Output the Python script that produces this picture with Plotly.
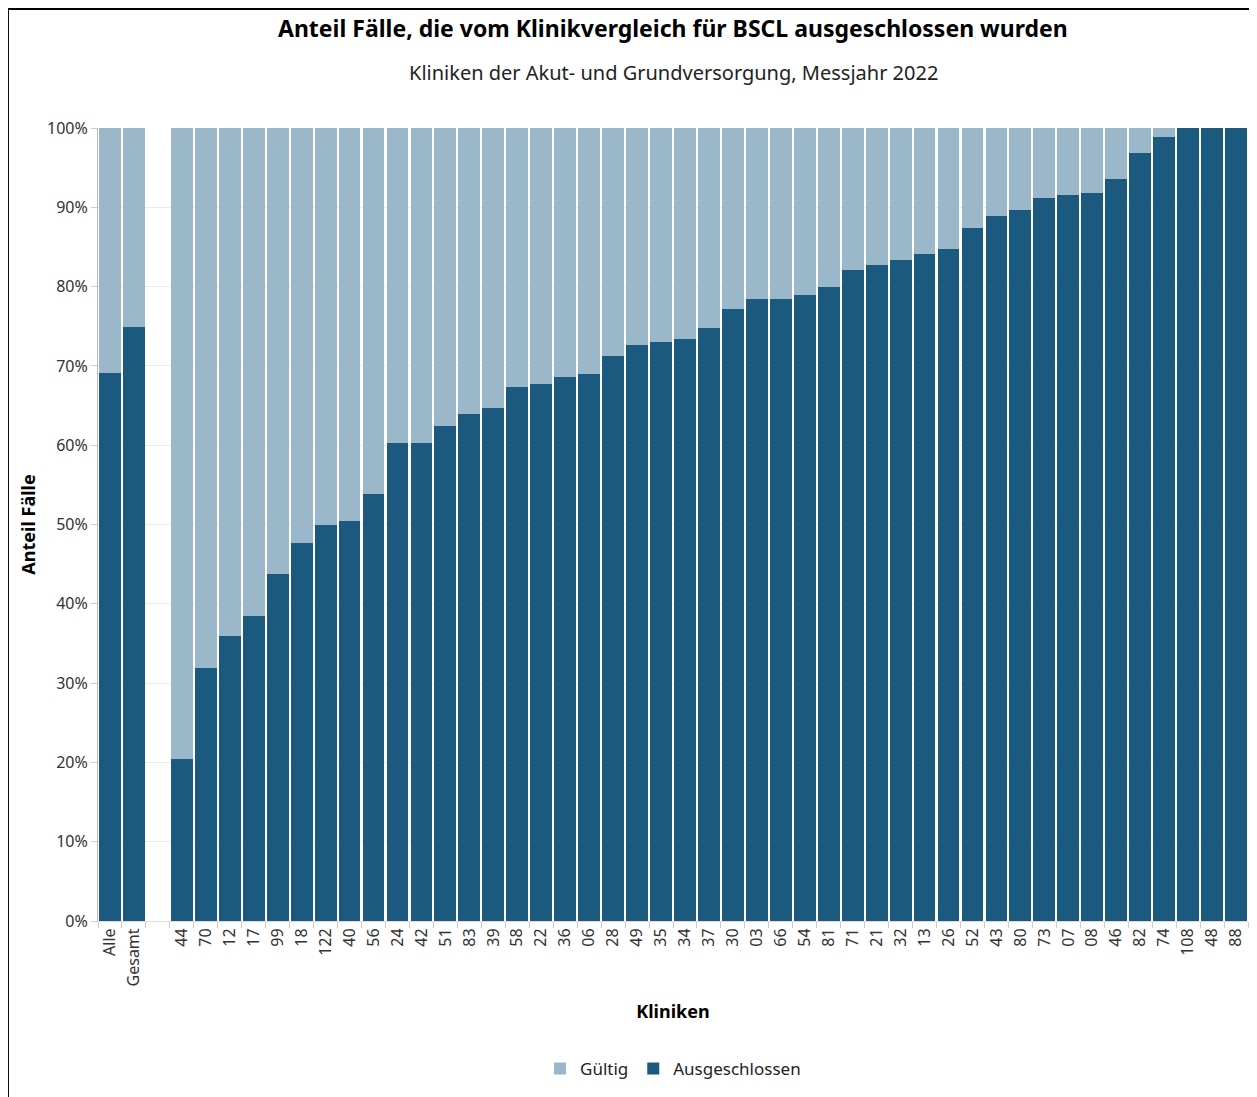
"""Anteil ausgeschlossener Fälle (BSCL) je Klinik"""
import plotly.graph_objects as go

kliniken = ["Alle", "Gesamt", " ",
            "44", "70", "12", "17", "99", "18", "122", "40", "56", "24",
            "42", "51", "83", "39", "58", "22", "36", "06", "28", "49",
            "35", "34", "37", "30", "03", "66", "54", "81", "71", "21",
            "32", "13", "26", "52", "43", "80", "73", "07", "08", "46",
            "82", "74", "108", "48", "88"]

ausgeschlossen = [69.1, 74.9, None,
                  20.4, 31.9, 35.9, 38.5, 43.8, 47.7, 49.9, 50.4, 53.8, 60.3,
                  60.3, 62.4, 63.9, 64.7, 67.3, 67.7, 68.6, 69.0, 71.2, 72.6,
                  73.0, 73.4, 74.8, 77.2, 78.4, 78.4, 78.9, 79.9, 82.1, 82.7,
                  83.4, 84.1, 84.7, 87.4, 88.9, 89.6, 91.2, 91.5, 91.8, 93.6,
                  96.9, 98.9, 100.0, 100.0, 100.0]

gueltig = [None if v is None else round(100 - v, 1) for v in ausgeschlossen]

y_ticks = [0, 10, 20, 30, 40, 50, 60, 70, 80, 90, 100]
y_labels = [f'{t}%' for t in y_ticks]

DUNKEL = '#1b5a7e'
HELL = '#9bb8ca'
FONT = 'Noto Sans'

fig = go.Figure()

fig.add_trace(go.Bar(
    x=kliniken, y=ausgeschlossen, name='Ausgeschlossen',
    marker=dict(color=DUNKEL, line=dict(width=0))
))
fig.add_trace(go.Bar(
    x=kliniken, y=gueltig, name='Gültig',
    marker=dict(color=HELL, line=dict(width=0))
))

# Rahmen oben und links
fig.add_shape(type='line', xref='paper', yref='paper',
              x0=-0.0783, x1=1.02, y0=1.1500, y1=1.1500,
              line=dict(color='black', width=2))
fig.add_shape(type='line', xref='paper', yref='paper',
              x0=-0.0783, x1=-0.0783, y0=1.1500, y1=-0.23,
              line=dict(color='black', width=2))

fig.add_annotation(text='<b>Anteil Fälle, die vom Klinikvergleich für BSCL ausgeschlossen wurden</b>',
                   xref='paper', yref='paper', x=0.5, y=1.126, yanchor='middle', showarrow=False,
                   font=dict(size=23, color='black', family=FONT))
fig.add_annotation(text='Kliniken der Akut- und Grundversorgung, Messjahr 2022',
                   xref='paper', yref='paper', x=0.5, y=1.0706, yanchor='middle', showarrow=False,
                   font=dict(size=20, color='#222', family=FONT))

fig.update_layout(
    barmode='stack',
    bargap=0.09,
    width=1249,
    height=1089,
    margin=dict(l=90, r=9, t=120, b=176),
    plot_bgcolor='white',
    paper_bgcolor='white',
    font=dict(family=FONT, color='#333', size=15),
    showlegend=True,
    legend=dict(orientation='h', x=0.5, xanchor='center', y=-0.1866, yanchor='middle',
                traceorder='reversed', font=dict(size=17, color='#222'),
                itemwidth=30),
    xaxis=dict(
        type='category',
        tickangle=-90,
        ticks='outside', tickson='boundaries', ticklen=6, tickcolor='#ccc',
        showline=True, linecolor='#ddd',
        title=dict(text='<b>Kliniken</b>', font=dict(size=18, color='black'), standoff=19),
        tickfont=dict(size=16, color='#333'),
    ),
    yaxis=dict(
        range=[0, 100],
        tickmode='array', tickvals=y_ticks, ticktext=y_labels,
        ticks='outside', ticklen=6, tickcolor='#ccc',
        showline=True, linecolor='#bbb',
        gridcolor='#ebebeb', zeroline=False,
        title=dict(text='<b>Anteil Fälle</b>', font=dict(size=18, color='black'), standoff=6),
        tickfont=dict(size=16, color='#333'),
    ),
)

fig.write_html("out.html")
